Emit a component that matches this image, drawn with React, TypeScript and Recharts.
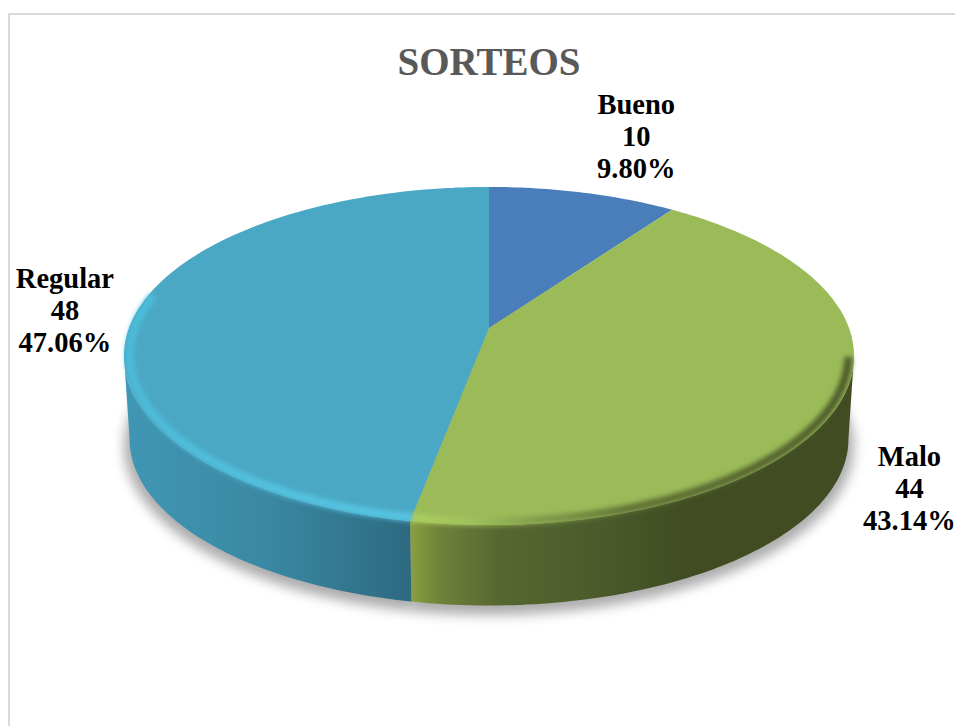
import { PieChart, Pie, Cell } from 'recharts';

const categories = ['Bueno', 'Malo', 'Regular'];
const counts = [10, 44, 48];
const topColors = ['#4a7ebb', '#9bbb59', '#4ba8c4'];
const wallFills = ['url(#wallBlue)', 'url(#wallGreen)', 'url(#wallTeal)'];
const rimStrokes = ['none', 'url(#rimGreen)', 'url(#rimTeal)'];
const chartTitle = 'SORTEOS';

const rows = categories.map((name, i) => ({ name, value: counts[i] }));
const total = counts.reduce((a, b) => a + b, 0);

// perspective of the tilted disc
const TILT = 0.1657;
const SQUASH = 0.4567;
const WALL_DROP = 84;
const WALL_SHRINK = 0.985;

// angles where the disc is widest on screen: only this front stretch shows a wall
const FRONT_RIGHT = -9.5;
const FRONT_LEFT = -170.5;
// the bevel wraps a little further round the left side
const RIM_RIGHT = -10;
const RIM_LEFT = -192;

// distance of each label from the rim of its slice
const labelNudge: Record<string, [number, number]> = {
  Bueno: [53, -56],
  Malo: [66, 92],
  Regular: [-71, -2],
};

function project(p: any, deg: number, r = 1, drop = 0) {
  const a = (deg * Math.PI) / 180;
  const u = r * Math.cos(a);
  const v = r * Math.sin(a);
  const d = 1 + TILT * v;
  return {
    x: p.cx + (p.outerRadius * u) / d,
    y: p.cy - (p.outerRadius * SQUASH * v) / d + drop,
  };
}

function arc(p: any, from: number, to: number, r = 1, drop = 0) {
  const n = Math.max(2, Math.ceil(Math.abs(to - from)));
  const pts = [];
  for (let i = 0; i <= n; i++) pts.push(project(p, from + ((to - from) * i) / n, r, drop));
  return pts;
}

const toPath = (pts: { x: number; y: number }[]) =>
  pts.map((q, i) => `${i ? 'L' : 'M'}${q.x.toFixed(1)} ${q.y.toFixed(1)}`).join(' ');

const ShadowSlice = (p: any) => {
  const c = project(p, 0, 0, WALL_DROP + 6);
  const edge = arc(p, p.startAngle, p.endAngle, 1, WALL_DROP + 6);
  return <path d={`${toPath([c, ...edge])} Z`} fill="#000" fillOpacity={0.32} filter="url(#softShadow)" />;
};

const WallSlice = (p: any) => {
  const from = Math.min(p.startAngle, FRONT_RIGHT);
  const to = Math.max(p.endAngle, FRONT_LEFT);
  if (from <= to) return <g />;
  const upper = arc(p, from, to);
  const lower = arc(p, to, from, WALL_SHRINK, WALL_DROP);
  return <path d={`${toPath([...upper, ...lower])} Z`} fill={p.fill} />;
};

const TopSlice = (p: any) => {
  const c = project(p, 0, 0);
  return <path d={`${toPath([c, ...arc(p, p.startAngle, p.endAngle)])} Z`} fill={p.fill} />;
};

// bevel along the front edge of the disc
const RimSlice = (p: any) => {
  const from = Math.min(p.startAngle, RIM_RIGHT);
  const to = Math.max(p.endAngle, RIM_LEFT);
  if (p.fill === 'none' || from <= to) return <g />;
  return (
    <path
      d={toPath(arc(p, from, to, 0.985))}
      fill="none"
      stroke={p.fill}
      strokeWidth={8}
      filter="url(#softRim)"
    />
  );
};

const SliceLabel = (p: any) => {
  const rim = project({ cx: p.cx, cy: p.cy, outerRadius: p.outerRadius }, p.midAngle);
  const [dx, dy] = labelNudge[p.name];
  const x = rim.x + dx;
  const y = rim.y + dy;
  const lines = [p.name, `${p.value}`, `${((p.value / total) * 100).toFixed(2)}%`];
  return (
    <text x={x} y={y + 9} textAnchor="middle" fontFamily="'Liberation Serif', serif" fontWeight="bold" fontSize={28.5} fill="#000">
      {lines.map((t, i) => (
        <tspan key={t} x={x} y={y + 9 + (i - 1) * 32}>
          {t}
        </tspan>
      ))}
    </text>
  );
};

const pieProps = {
  data: rows,
  dataKey: 'value',
  nameKey: 'name',
  cx: 489,
  cy: 328,
  outerRadius: 360,
  startAngle: 90,
  endAngle: -270,
  stroke: 'none',
  isAnimationActive: false,
};

export default function App() {
  return (
    <div style={{ position: 'absolute', left: 0, top: 0, width: 955, height: 726, overflow: 'hidden', background: '#fff' }}>
      <div
        style={{
          position: 'absolute',
          left: 8,
          top: 13,
          width: 1000,
          height: 800,
          border: '2px solid #d9d9d9',
        }}
      />
      <div style={{ position: 'absolute', left: 0, top: 0 }}>
        <PieChart width={955} height={726} margin={{ top: 0, right: 0, bottom: 0, left: 0 }}>
          <defs>
            <filter id="softShadow" x="-10%" y="-20%" width="120%" height="140%">
              <feGaussianBlur stdDeviation="6" />
            </filter>
            <filter id="softRim" x="-10%" y="-20%" width="120%" height="140%">
              <feGaussianBlur stdDeviation="2.4" />
            </filter>
            <linearGradient id="wallTeal" gradientUnits="userSpaceOnUse" x1="124" y1="0" x2="411" y2="0">
              <stop offset="0" stopColor="#4097b3" />
              <stop offset="0.5" stopColor="#3a88a3" />
              <stop offset="1" stopColor="#2d6a80" />
            </linearGradient>
            <linearGradient id="wallGreen" gradientUnits="userSpaceOnUse" x1="411" y1="0" x2="853" y2="0">
              <stop offset="0" stopColor="#8a9f42" />
              <stop offset="0.07" stopColor="#6e8039" />
              <stop offset="0.2" stopColor="#566830" />
              <stop offset="0.45" stopColor="#49592a" />
              <stop offset="0.62" stopColor="#414c22" />
              <stop offset="1" stopColor="#414c22" />
            </linearGradient>
            <linearGradient id="rimTeal" gradientUnits="userSpaceOnUse" x1="124" y1="0" x2="411" y2="0">
              <stop offset="0" stopColor="#4cbcd9" />
              <stop offset="0.6" stopColor="#54c4e2" />
              <stop offset="1" stopColor="#56c6e4" />
            </linearGradient>
            <linearGradient id="rimGreen" gradientUnits="userSpaceOnUse" x1="411" y1="0" x2="853" y2="0">
              <stop offset="0" stopColor="#aed260" />
              <stop offset="0.14" stopColor="#9fc05c" />
              <stop offset="0.25" stopColor="#87a34e" />
              <stop offset="0.5" stopColor="#5f7034" />
              <stop offset="1" stopColor="#4c5a2a" />
            </linearGradient>
          </defs>
          <text
            x={489}
            y={75}
            textAnchor="middle"
            fontFamily="'Liberation Serif', serif"
            fontWeight="bold"
            fontSize={39}
            fill="#595959"
          >
            {chartTitle}
          </text>
          <Pie {...pieProps} shape={ShadowSlice} />
          <Pie {...pieProps} shape={WallSlice}>
            {wallFills.map((f) => (
              <Cell key={f} fill={f} />
            ))}
          </Pie>
          <Pie {...pieProps} shape={TopSlice} label={SliceLabel} labelLine={false}>
            {topColors.map((f) => (
              <Cell key={f} fill={f} />
            ))}
          </Pie>
          <Pie {...pieProps} shape={RimSlice}>
            {rimStrokes.map((f, i) => (
              <Cell key={i} fill={f} />
            ))}
          </Pie>
        </PieChart>
      </div>
    </div>
  );
}
